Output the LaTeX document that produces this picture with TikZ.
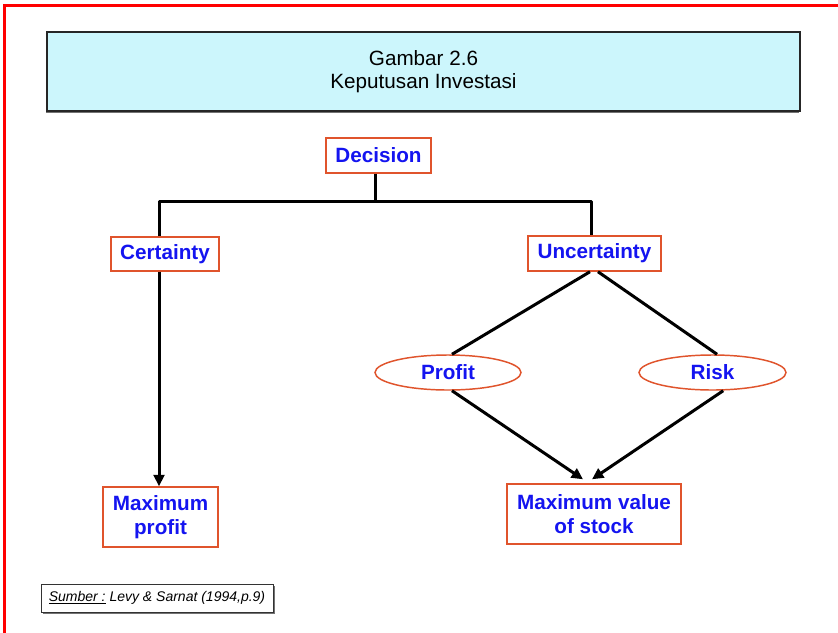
\documentclass[tikz,border=0pt]{standalone}
\usepackage{fontspec}
\setmainfont{Liberation Sans}
\usetikzlibrary{arrows.meta,shapes.geometric}
\definecolor{lblue}{HTML}{1414F0}
\definecolor{boxred}{HTML}{E0542C}
\definecolor{titlefill}{HTML}{CCF6FC}
\definecolor{framered}{HTML}{FF0000}
\begin{document}
\begin{tikzpicture}[x=0.75pt,y=-0.75pt,
  lbl/.style={draw=boxred, line width=1.1pt, fill=white, text=lblue,
    font=\fontsize{15.5}{18}\selectfont\bfseries, inner sep=0pt, align=center},
  oval/.style={lbl, ellipse},
  conn/.style={line width=2.25pt, black, line join=round},
  arr/.style={conn, -{Triangle[length=8.5pt,width=8pt]}},
  titlebox/.style={draw=black!85, line width=0.9pt, fill=titlefill, inner sep=0pt,
    align=center, font=\fontsize{15.5}{17.5}\selectfont},
  srcbox/.style={draw=black!80, line width=0.7pt, fill=white, inner sep=0pt,
    font=\fontsize{10.5}{12}\selectfont\itshape}
]
\useasboundingbox (0,0) rectangle (838,632);
\fill[white] (0,0) rectangle (838,632);
% red frame (top and left)
\draw[framered, line width=2.25pt] (4,640) -- (4,5.5) -- (850,5.5);

% title
\fill[black!55] (45.5,33.5) rectangle (798.5,112.5);
\node[titlebox, minimum width=564.75pt, minimum height=59.25pt] (title) at (423.5,71.5)
  {Gambar 2.6\\Keputusan Investasi};

% nodes
\node[lbl, minimum width=78.75pt, minimum height=26.25pt] (dec) at (378.5,155.5) {Decision};
\node[lbl, minimum width=81pt, minimum height=25.5pt] (cer) at (165,254) {Certainty};
\node[lbl, minimum width=99.75pt, minimum height=26.25pt] (unc) at (594.5,253.5) {Uncertainty};
\node[oval, minimum width=109.5pt, minimum height=26.25pt] (pro) at (448,372.5) {Profit};
\node[oval, minimum width=110.25pt, minimum height=26.25pt] (risk) at (712.5,372.5) {Risk};
\node[lbl, minimum width=86.25pt, minimum height=45pt] (mp) at (160.5,517) {Maximum\\profit};
\node[lbl, minimum width=130.5pt, minimum height=45pt] (mv) at (594,514) {Maximum value\\of stock};

% connectors
\coordinate (j) at (375,201.5);
\coordinate (jl) at (159,201.5);
\coordinate (jr) at (591,201.5);
\draw[conn] (dec.south -| j) -- (j);
\draw[conn] (cer.north -| jl) -- (jl) -- (jr) -- (unc.north -| jr);
\draw[arr] (cer.south -| jl) -- (mp.north -| jl);
\draw[conn] ([xshift=-3.4pt]unc.south) -- ([xshift=3pt]pro.north);
\draw[conn] ([xshift=2.6pt]unc.south) -- ([xshift=3.4pt]risk.north);
\draw[arr] ([xshift=3pt]pro.south) -- ([xshift=-8.25pt,yshift=3pt]mv.north);
\draw[arr] ([xshift=8pt]risk.south) -- ([xshift=-1.5pt,yshift=3pt]mv.north);

% source
\fill[black!55] (43,586) rectangle (275,614);
\node[srcbox, minimum width=174pt, minimum height=21pt] (src) at (157,598)
  {\underline{Sumber :} Levy \& Sarnat (1994,p.9)};
\end{tikzpicture}
\end{document}
